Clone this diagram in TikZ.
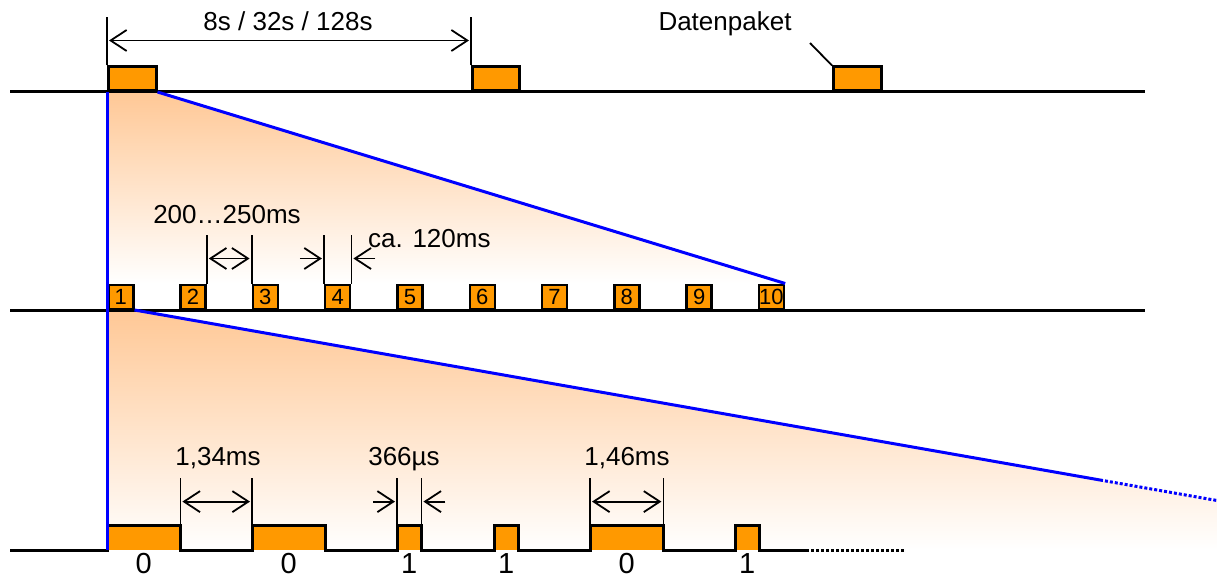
\documentclass[tikz,border=0pt]{standalone}
\usepackage{fontspec}
\setmainfont{Liberation Sans}
\usetikzlibrary{arrows.meta,calc,backgrounds}

\definecolor{pktorange}{RGB}{255,153,0}
\definecolor{peach}{RGB}{255,200,150}
\definecolor{fanblue}{RGB}{0,0,255}

\tikzset{
  base/.style={line width=3pt, black},
  pkt/.style={draw=black, line width=2.5pt, fill=pktorange, inner sep=0pt, anchor=south west},
  slot/.style={pkt, minimum width=25pt, minimum height=24pt, font=\fontsize{22}{24}\selectfont},
  pulse/.style={fill=pktorange, inner sep=0pt, anchor=south west, minimum height=24pt},
  tick/.style={line width=1.8pt, black},
  barb/.tip={Straight Barb[length=16pt,width=21pt]},
  dimarrow/.style={line width=1.8pt, black, barb-barb},
  inarrow/.style={line width=1.8pt, black, -barb},
  lbl/.style={font=\fontsize{26}{30}\selectfont, inner sep=0pt},
  bit/.style={font=\fontsize{29}{32}\selectfont, inner sep=0pt, anchor=base},
  bluefan/.style={line width=3pt, fanblue},
  fanfill/.style={top color=peach, bottom color=white, draw=none},
}

\begin{document}
\begin{tikzpicture}[x=1pt, y=-1pt]
\useasboundingbox (0,0) rectangle (1217,580);

% ---------- top row: data packets ----------
\node[pkt, minimum width=48pt, minimum height=24pt] (d1) at (107,92) {};
\node[pkt, minimum width=47pt, minimum height=24pt] (d2) at (471,92) {};
\node[pkt, minimum width=48pt, minimum height=24pt] (d3) at (832,92) {};

% ---------- middle row: repeated telegrams ----------
\foreach \i in {1,...,10} {
  \node[slot] (m\i) at ({107+72.3*(\i-1)},310) {\i};
}

% ---------- bottom row: bit pulses ----------
\node[pulse, minimum width=73pt] (b1) at (107,550) {};
\node[pulse, minimum width=73pt] (b2) at (252,550) {};
\node[pulse, minimum width=24pt] (b3) at (397,550) {};
\node[pulse, minimum width=24pt] (b4) at (494,550) {};
\node[pulse, minimum width=73pt] (b5) at (590,550) {};
\node[pulse, minimum width=24pt] (b6) at (735,550) {};

% ---------- zoom fans (behind everything) ----------
\coordinate (fanend) at (1100,480);
\coordinate (fanfar) at (1217,500.5);
\coordinate (fanbot) at (1217,550);

\begin{scope}[on background layer]
\shade[fanfill] (d1.south west) -- (d1.south east) -- (m10.north east) -- (m1.north west) -- cycle;
\shade[fanfill] (m1.south west) -- (m1.south east) -- (fanfar) -- (fanbot) -- (b1.south west) -- cycle;
\end{scope}

% baselines
\coordinate (l1a) at (10,92);   \coordinate (l1b) at (1145,92);
\coordinate (l2a) at (10,310);  \coordinate (l2b) at (1145,310);
\draw[base] (l1a) -- (l1b);
\draw[base] (l2a) -- (l2b);

% bottom signal line
\coordinate (sigstart) at (10,550);
\coordinate (sigend) at (806,550);
\coordinate (sigdots) at (905,550);
\draw[base, line join=miter] (sigstart) -- (b1.south west) -- (b1.north west) -- (b1.north east) -- (b1.south east)
  -- (b2.south west) -- (b2.north west) -- (b2.north east) -- (b2.south east)
  -- (b3.south west) -- (b3.north west) -- (b3.north east) -- (b3.south east)
  -- (b4.south west) -- (b4.north west) -- (b4.north east) -- (b4.south east)
  -- (b5.south west) -- (b5.north west) -- (b5.north east) -- (b5.south east)
  -- (b6.south west) -- (b6.north west) -- (b6.north east) -- (b6.south east)
  -- (sigend);
\draw[line width=3pt, dotted] (sigend) -- (sigdots);

% blue fan edges
\draw[bluefan] (d1.south west) -- (m1.south west);
\draw[bluefan] (m1.south west) -- (b1.south west);
\draw[bluefan] (d1.south east) -- (m10.north east);
\draw[bluefan] (m1.south east) -- (fanend);
\draw[bluefan, dotted] (fanend) -- (fanfar);

% ---------- top row dimensions ----------
\draw[tick] (d1.north west) -- ++(0,-48) coordinate (t1top);
\draw[tick] (d2.north west) -- ++(0,-48) coordinate (t2top);
\draw[dimarrow] ($(d1.north west)+(2,-25)$) -- ($(d2.north west)+(-2,-25)$);
\node[lbl, anchor=base] (period) at (288,31) {8s / 32s / 128s};

\node[lbl, anchor=base] (dp) at (725,31) {Datenpaket};
\coordinate (dpleader) at (810,43);
\draw[tick] (dpleader) -- (d3.north west);

% ---------- middle row dimensions ----------
\draw[tick] (m2.north east) -- ++(0,-49);
\draw[tick] (m3.north west) -- ++(0,-49);
\draw[dimarrow] ($(m2.north east)+(2,-25)$) -- ($(m3.north west)+(-2,-25)$);
\node[lbl, anchor=base] (gap) at (227,223) {200…250ms};

\draw[tick] (m4.north west) -- ++(0,-49);
\draw[tick] (m4.north east) -- ++(0,-49);
\coordinate (m4l) at ($(m4.north west)+(-24,-25)$);
\coordinate (m4r) at ($(m4.north east)+(24,-25)$);
\draw[inarrow] (m4l) -- ($(m4.north west)+(-2,-25)$);
\draw[inarrow] (m4r) -- ($(m4.north east)+(2,-25)$);
\node[lbl, anchor=base west] (dur) at (368,247) {ca. 120ms};

% ---------- bottom row dimensions ----------
\draw[tick] (b1.north east) -- ++(0,-48);
\draw[tick] (b2.north west) -- ++(0,-48);
\draw[dimarrow] ($(b1.north east)+(2,-24)$) -- ($(b2.north west)+(-2,-24)$);
\node[lbl, anchor=base] (t134) at (218,465) {1,34ms};

\draw[tick] (b3.north west) -- ++(0,-48);
\draw[tick] (b3.north east) -- ++(0,-48);
\coordinate (b3l) at ($(b3.north west)+(-24,-24)$);
\coordinate (b3r) at ($(b3.north east)+(24,-24)$);
\draw[inarrow] (b3l) -- ($(b3.north west)+(-2,-24)$);
\draw[inarrow] (b3r) -- ($(b3.north east)+(2,-24)$);
\node[lbl, anchor=base] (t366) at (404,465) {366µs};

\draw[tick] (b5.north west) -- ++(0,-48);
\draw[tick] (b5.north east) -- ++(0,-48);
\draw[dimarrow] ($(b5.north west)+(2,-24)$) -- ($(b5.north east)+(-2,-24)$);
\node[lbl, anchor=base] (t146) at (627,465) {1,46ms};

% bit values
\path (b1.south) ++(0,23) node[bit] (v1) {0};
\path (b2.south) ++(0,23) node[bit] (v2) {0};
\path (b3.south) ++(0,23) node[bit] (v3) {1};
\path (b4.south) ++(0,23) node[bit] (v4) {1};
\path (b5.south) ++(0,23) node[bit] (v5) {0};
\path (b6.south) ++(0,23) node[bit] (v6) {1};
\end{tikzpicture}
\end{document}
